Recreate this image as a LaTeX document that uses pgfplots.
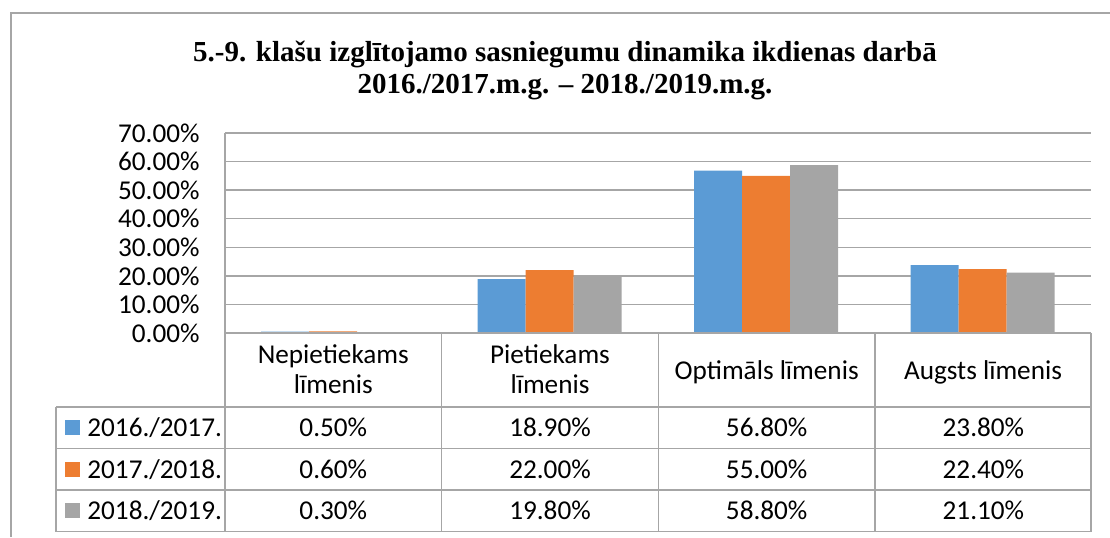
\documentclass[border=0pt]{standalone}
\usepackage{pgfplots}
\pgfplotsset{compat=1.18}
\usepackage{fontspec}
\setmainfont{Carlito}
\newfontfamily\titlefont{Liberation Serif}
\definecolor{c1}{HTML}{5B9BD5}
\definecolor{c2}{HTML}{ED7D31}
\definecolor{c3}{HTML}{A5A5A5}
\definecolor{gridc}{HTML}{A6A6A6}
\newcommand{\tf}{\fontsize{13.6pt}{15pt}\selectfont}
\newcommand{\ttlf}{\titlefont\fontsize{14.5pt}{16pt}\selectfont\bfseries}
\begin{document}
\begin{tikzpicture}[x=0.5pt,y=-0.5pt]
\path[use as bounding box] (0,0) rectangle (1110,537);
\draw[gridc, line width=0.75pt] (11,537) -- (11,13) -- (1110,13);
\node[anchor=base, inner sep=0pt] at (565,61) {\ttlf 5.-9. klašu izglītojamo sasniegumu dinamika ikdienas darbā};
\node[anchor=base, inner sep=0pt] at (565,93) {\ttlf 2016./2017.m.g. – 2018./2019.m.g.};
\begin{axis}[
  at={(112.5pt,-166.5pt)}, anchor=south west,
  scale only axis, width=433pt, height=100pt,
  xmin=-0.5, xmax=3.5, ymin=0, ymax=70,
  ybar=0pt, bar width=24pt,
  axis x line=none, axis y line*=left,
  axis line style={gridc, line width=0.75pt},
  xtick=\empty, ytick={0,10,...,70},
  major tick length=0pt,
  ymajorgrids, grid style={gridc, line width=0.75pt},
  /pgf/number format/assume math mode=true,
  yticklabel={\pgfmathprintnumber[fixed,fixed zerofill,precision=2]{\tick}\%},
  yticklabel style={font=\tf, anchor=east, inner sep=0pt, xshift=-12.5pt},
]
\addplot[fill=c1, draw=none] coordinates {(0,0.5) (1,18.9) (2,56.8) (3,23.8)};
\addplot[fill=c2, draw=none] coordinates {(0,0.6) (1,22.0) (2,55.0) (3,22.4)};
\addplot[fill=c3, draw=none] coordinates {(0,0.3) (1,19.8) (2,58.8) (3,21.1)};
\end{axis}
% data table grid
\draw[gridc, line width=0.75pt] (225,333) -- (1091,333);
\foreach \yy in {407,448.3,490,531.7} \draw[gridc, line width=0.6pt] (56,\yy) -- (1091,\yy);
\draw[gridc, line width=0.6pt] (56,407) -- (56,531.7);
\foreach \xx in {225,441.7,658.3,875,1091} \draw[gridc, line width=0.6pt] (\xx,333) -- (\xx,531.7);
% header
\begin{scope}[every node/.style={font=\tf, anchor=base, inner sep=0pt}]
\node at (333.3,363) {Nepietiekams};
\node at (333.3,393) {līmenis};
\node at (550,363) {Pietiekams};
\node at (550,393) {līmenis};
\node at (766.7,379) {Optimāls līmenis};
\node at (983,379) {Augsts līmenis};
% values
\foreach \v [count=\i from 0] in {0.50\%,18.90\%,56.80\%,23.80\%} \node at (333.3+216.7*\i,436.7) {\v};
\foreach \v [count=\i from 0] in {0.60\%,22.00\%,55.00\%,22.40\%} \node at (333.3+216.7*\i,478.2) {\v};
\foreach \v [count=\i from 0] in {0.30\%,19.80\%,58.80\%,21.10\%} \node at (333.3+216.7*\i,519.9) {\v};
\node[anchor=base west] at (87,436.7) {2016./2017.};
\node[anchor=base west] at (87,478.2) {2017./2018.};
\node[anchor=base west] at (87,519.9) {2018./2019.};
\end{scope}
\fill[c1] (65,420.2) rectangle (80,435.2);
\fill[c2] (65,461.7) rectangle (80,476.7);
\fill[c3] (65,503.4) rectangle (80,518.4);
\end{tikzpicture}
\end{document}
